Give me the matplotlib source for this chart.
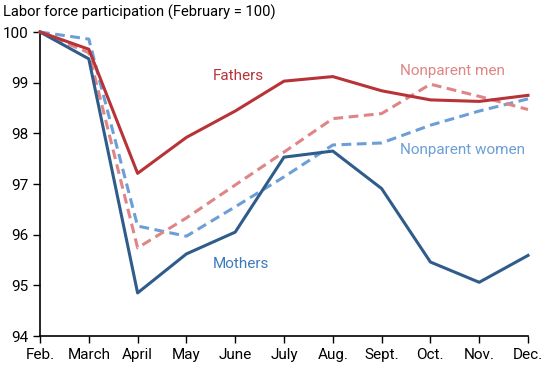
import matplotlib.pyplot as plt

plt.rcParams.update({"font.family": ["Roboto", "DejaVu Sans"], "font.size": 11})

months = ["Feb.", "March", "April", "May", "June", "July", "Aug.", "Sept.", "Oct.", "Nov.", "Dec."]
fathers = [100, 99.66, 97.21, 97.92, 98.44, 99.03, 99.12, 98.84, 98.66, 98.63, 98.75]
mothers = [100, 99.47, 94.85, 95.62, 96.05, 97.53, 97.65, 96.91, 95.46, 95.06, 95.59]
nonparent_men = [100, 99.59, 95.74, 96.33, 96.98, 97.63, 98.29, 98.39, 98.97, 98.73, 98.47]
nonparent_women = [100, 99.86, 96.17, 95.97, 96.55, 97.14, 97.77, 97.81, 98.16, 98.44, 98.68]

c_fathers = "#b83338"
c_mothers = "#2f5c8a"
c_np_men = "#df8585"
c_np_women = "#6b9fd6"

fig = plt.figure(figsize=(5.5, 3.65), dpi=100)
ax = fig.add_axes([40 / 550, 1 - 336 / 365, 488 / 550, 304 / 365])

x = list(range(len(months)))
ax.plot(x, nonparent_women, color=c_np_women, lw=2.2, ls=(0, (3.2, 1.8)), clip_on=False, zorder=3)
ax.plot(x, nonparent_men, color=c_np_men, lw=2.2, ls=(0, (3.2, 1.8)), clip_on=False, zorder=3)
ax.plot(x, mothers, color=c_mothers, lw=2.2, clip_on=False, zorder=4)
ax.plot(x, fathers, color=c_fathers, lw=2.2, clip_on=False, zorder=4)

ax.set_xlim(0, 10)
ax.set_ylim(94, 100)
ax.set_xticks(x)
ax.set_xticklabels(months)
ax.set_yticks([94, 95, 96, 97, 98, 99, 100])
ax.tick_params(axis="both", length=5, width=1, colors="black", labelsize=11)
ax.tick_params(axis="y", pad=3)
for side in ["top", "right"]:
    ax.spines[side].set_visible(False)
for side in ["left", "bottom"]:
    ax.spines[side].set_linewidth(1.2)

ax.text(3.55, 99.13, "Fathers", color=c_fathers, fontsize=11, ha="left", va="center")
ax.text(3.55, 95.42, "Mothers", color="#3f7bbb", fontsize=11, ha="left", va="center")
ax.text(7.37, 99.23, "Nonparent men", color=c_np_men, fontsize=11, ha="left", va="center")
ax.text(7.38, 97.67, "Nonparent women", color=c_np_women, fontsize=11, ha="left", va="center")

fig.text(3 / 550, 1 - 12 / 365, "Labor force participation (February = 100)", fontsize=10.6, ha="left", va="center")

fig.savefig("out.png", dpi=100)
